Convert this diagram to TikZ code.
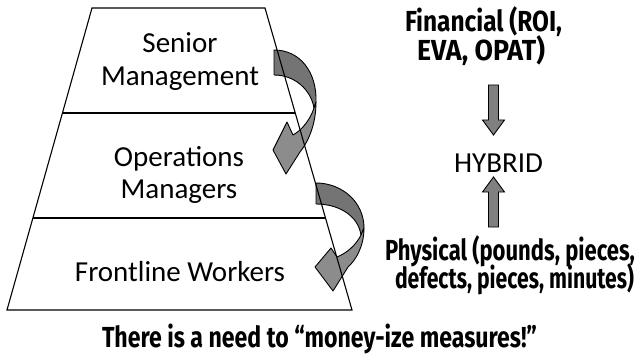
\documentclass[tikz,border=0pt]{standalone}
\usepackage{fontspec}
\usepackage{graphicx}
\setmainfont{Carlito}
\newfontfamily\boldsans{Fira Sans}
\newcommand\fitto[2]{\resizebox{#1}{\height}{#2}}
\definecolor{backgray}{RGB}{116,116,116}
\definecolor{frontgray}{RGB}{140,140,140}
\definecolor{arrowgray}{RGB}{128,128,128}
\tikzset{
  lvl/.style={anchor=base, inner sep=0pt, font=\fontsize{29}{32}\selectfont},
  bold/.style={anchor=base, inner sep=0pt, font=\boldsans\bfseries\fontsize{29}{31}\selectfont},
  backpart/.style={fill=backgray, draw=black, line width=0.9pt, line join=round},
  frontpart/.style={fill=frontgray, draw=black, line width=0.9pt, line join=round},
  blockarrow/.style={fill=arrowgray, draw=black, line width=0.9pt, line join=miter},
  pyramid/.style={draw=black, line width=1.1pt},
}
\begin{document}
\begin{tikzpicture}[x=1pt,y=-1pt]
\useasboundingbox (0,0) rectangle (638,361);
% curved arrow 1 (Senior -> Operations)
\filldraw[backpart] (274,50) .. controls (300,50) and (317,72) .. (316,102)
  -- (314,108) .. controls (311,90) and (295,75) .. (274,75) -- cycle;
\filldraw[frontpart] (316,102) .. controls (316,125) and (308,142) .. (300,152)
  -- (286,174) -- (273,150) -- (287,122) -- (293,135)
  .. controls (302,130) and (310,120) .. (314,108) -- cycle;
% curved arrow 2 (Operations -> Frontline)
\filldraw[backpart] (316,183) .. controls (342,183) and (364,202) .. (364,228)
  -- (361,235) .. controls (358,215) and (338,204) .. (316,204) -- cycle;
\filldraw[frontpart] (364,228) .. controls (364,246) and (356,260) .. (348,267)
  -- (333,291) -- (315,267) -- (331,248) -- (337,257)
  .. controls (347,253) and (356,245) .. (361,235) -- cycle;
% pyramid
\coordinate (tl) at (92,8);
\coordinate (tr) at (265,8);
\coordinate (br) at (352,310);
\coordinate (bl) at (7,310);
\coordinate (d1l) at (62.5,113);
\coordinate (d1r) at (295.2,113);
\coordinate (d2l) at (33,218);
\coordinate (d2r) at (325.5,218);
\draw[pyramid] (tl) -- (tr) -- (br) -- (bl) -- cycle;
\draw[pyramid] (d1l) -- (d1r);
\draw[pyramid] (d2l) -- (d2r);
% level texts
\node[lvl] (sen) at (180,53) {Senior};
\node[lvl] (mgmt) at (180,85) {Management};
\node[lvl] (ops) at (179,166) {Operations};
\node[lvl] (mgrs) at (179,198) {Managers};
\node[lvl] (front) at (180,281) {Frontline Workers};
% right side
\node[bold] (fin1) at (483.5,32) {\fitto{157pt}{Financial (ROI,}};
\node[bold] (fin2) at (481,61) {\fitto{128pt}{EVA, OPAT)}};
\node[lvl] (hyb) at (498.5,172) {HYBRID};
\node[bold] (phy1) at (510,260) {\fitto{250pt}{Physical (pounds, pieces,}};
\node[bold] (phy2) at (514.5,288) {\fitto{239pt}{defects, pieces, minutes)}};
\filldraw[blockarrow] (488.5,85) -- (498.5,85) -- (498.5,120) -- (504.5,120)
  -- (493.5,135) -- (482.5,120) -- (488.5,120) -- cycle;
\filldraw[blockarrow] (488.5,227) -- (498.5,227) -- (498.5,192) -- (504.5,192)
  -- (493.5,177) -- (482.5,192) -- (488.5,192) -- cycle;
% bottom text
\node[bold] (need) at (319.5,347) {\fitto{435pt}{There is a need to “money-ize measures!”}};
\end{tikzpicture}
\end{document}
